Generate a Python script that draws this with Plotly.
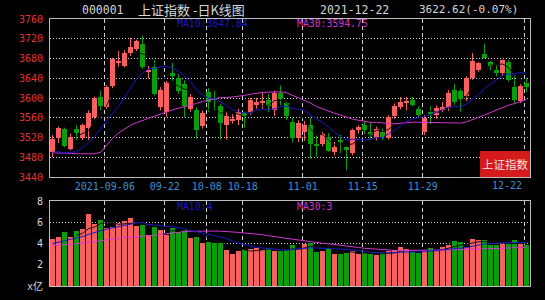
import plotly.graph_objects as go
import pandas as pd

# ---------------- data ----------------
dates = [
    "2021-08-24", "2021-08-25", "2021-08-26", "2021-08-27", "2021-08-30", "2021-08-31",
    "2021-09-01", "2021-09-02", "2021-09-03", "2021-09-06", "2021-09-07", "2021-09-08",
    "2021-09-09", "2021-09-10", "2021-09-13", "2021-09-14", "2021-09-15", "2021-09-16",
    "2021-09-17", "2021-09-22", "2021-09-23", "2021-09-24", "2021-09-27", "2021-09-28",
    "2021-09-29", "2021-09-30", "2021-10-08", "2021-10-11", "2021-10-12", "2021-10-13",
    "2021-10-14", "2021-10-15", "2021-10-18", "2021-10-19", "2021-10-20", "2021-10-21",
    "2021-10-22", "2021-10-25", "2021-10-26", "2021-10-27", "2021-10-28", "2021-10-29",
    "2021-11-01", "2021-11-02", "2021-11-03", "2021-11-04", "2021-11-05", "2021-11-08",
    "2021-11-09", "2021-11-10", "2021-11-11", "2021-11-12", "2021-11-15", "2021-11-16",
    "2021-11-17", "2021-11-18", "2021-11-19", "2021-11-22", "2021-11-23", "2021-11-24",
    "2021-11-25", "2021-11-26", "2021-11-29", "2021-11-30", "2021-12-01", "2021-12-02",
    "2021-12-03", "2021-12-06", "2021-12-07", "2021-12-08", "2021-12-09", "2021-12-10",
    "2021-12-13", "2021-12-14", "2021-12-15", "2021-12-16", "2021-12-17", "2021-12-20",
    "2021-12-21", "2021-12-22",
]
open_ = [3490, 3520, 3538, 3497, 3537, 3520, 3540, 3561, 3603, 3581,
         3625, 3672, 3665, 3692, 3699, 3710, 3652, 3663, 3582, 3572,
         3651, 3640, 3628, 3578, 3575, 3543, 3613, 3600, 3583, 3545,
         3555, 3555, 3569, 3571, 3587, 3590, 3595, 3575, 3611, 3589,
         3551, 3520, 3531, 3545, 3505, 3506, 3521, 3491, 3514, 3500,
         3489, 3535, 3545, 3531, 3520, 3531, 3520, 3563, 3582, 3590,
         3596, 3577, 3531, 3572, 3565, 3575, 3579, 3617, 3614, 3604,
         3641, 3656, 3689, 3673, 3656, 3651, 3673, 3623, 3594, 3630]
high = [3525, 3542, 3540, 3528, 3545, 3548, 3575, 3603, 3615, 3626,
        3681, 3695, 3697, 3722, 3718, 3726, 3665, 3677, 3622, 3635,
        3671, 3648, 3636, 3608, 3581, 3575, 3620, 3615, 3588, 3571,
        3567, 3578, 3572, 3600, 3600, 3611, 3608, 3615, 3625, 3593,
        3560, 3555, 3554, 3560, 3525, 3531, 3529, 3511, 3525, 3502,
        3538, 3545, 3554, 3550, 3542, 3538, 3565, 3589, 3602, 3602,
        3602, 3583, 3565, 3583, 3585, 3592, 3616, 3628, 3619, 3644,
        3691, 3673, 3710, 3675, 3666, 3678, 3677, 3646, 3628, 3640]
low = [3480, 3509, 3500, 3494, 3515, 3515, 3515, 3557, 3575, 3578,
       3620, 3663, 3662, 3685, 3695, 3659, 3639, 3605, 3575, 3562,
       3635, 3608, 3561, 3572, 3518, 3538, 3572, 3575, 3516, 3516,
       3548, 3545, 3540, 3566, 3578, 3578, 3571, 3563, 3585, 3555,
       3510, 3511, 3513, 3477, 3481, 3502, 3491, 3484, 3489, 3454,
       3484, 3528, 3527, 3516, 3514, 3514, 3516, 3558, 3577, 3575,
       3582, 3560, 3525, 3547, 3558, 3572, 3574, 3585, 3572, 3594,
       3637, 3653, 3680, 3656, 3644, 3644, 3633, 3590, 3590, 3612]
close = [3516, 3540, 3503, 3522, 3529, 3545, 3570, 3599, 3583, 3623,
         3678, 3674, 3692, 3704, 3715, 3662, 3657, 3609, 3617, 3631,
         3645, 3615, 3583, 3603, 3536, 3569, 3592, 3596, 3549, 3563,
         3558, 3571, 3565, 3595, 3591, 3594, 3583, 3611, 3598, 3563,
         3520, 3550, 3545, 3506, 3503, 3527, 3493, 3500, 3511, 3495,
         3535, 3541, 3536, 3525, 3538, 3522, 3562, 3583, 3592, 3592,
         3586, 3565, 3560, 3567, 3579, 3581, 3610, 3592, 3597, 3641,
         3675, 3670, 3682, 3665, 3650, 3677, 3636, 3596, 3625, 3622.62]
volume = [4.41, 4.60, 5.08, 4.57, 5.18, 5.37, 6.80, 5.81, 6.23, 5.43,
          5.59, 5.94, 6.13, 6.39, 5.69, 5.75, 4.79, 5.56, 5.27, 4.79,
          5.50, 5.05, 5.27, 4.54, 4.63, 4.06, 4.15, 4.06, 4.09, 3.35,
          3.00, 3.26, 3.35, 3.45, 3.58, 3.42, 3.61, 3.29, 3.26, 3.42,
          3.83, 3.51, 3.93, 4.09, 3.19, 3.26, 3.51, 3.04, 3.04, 3.13,
          3.26, 3.04, 3.13, 3.04, 2.94, 3.04, 3.26, 3.35, 3.67, 3.45,
          3.19, 3.13, 3.35, 3.58, 3.35, 3.67, 3.83, 4.25, 4.15, 3.67,
          4.47, 4.31, 4.31, 3.83, 3.83, 3.99, 3.99, 4.31, 3.99, 3.90]

# moving-average values before a full window exists
ma10_early = [3490, 3491, 3489, 3490, 3491, 3500, 3509, 3522, 3538]
ma30_early = [3489, 3489, 3489, 3488, 3487, 3487, 3487, 3487, 3490, 3505,
              3518, 3529, 3537, 3545, 3550, 3555, 3559, 3563, 3568, 3572,
              3576, 3579, 3582, 3585, 3589, 3593, 3596, 3599, 3601]
vma10_early = [4.0, 4.1, 4.25, 4.4, 4.5, 4.65, 4.85, 5.05, 5.2]
vma30_early = [3.83, 3.84, 3.86, 3.9, 3.97, 4.03, 4.1, 4.18, 4.25, 4.35,
               4.43, 4.5, 4.56, 4.59, 4.62, 4.66, 4.72, 4.78, 4.85, 4.93,
               5.0, 5.07, 5.12, 5.15, 5.17, 5.18, 5.18, 5.17, 5.16]

label_dates = ["2021-09-06", "2021-09-22", "2021-10-08", "2021-10-18",
               "2021-11-01", "2021-11-15", "2021-11-29", "2021-12-22"]
label_texts = ["2021-09-06", "09-22", "10-08", "10-18", "11-01", "11-15", "11-29", "12-22"]
price_ticks = [3440, 3480, 3520, 3560, 3600, 3640, 3680, 3720, 3760]
vol_ticks = [0, 2, 4, 6, 8]
vol_ticktext = ["x亿", "2", "4", "6", "8"]

title_code = "000001"
title_name = "上证指数 -日K线图"
title_date = "2021-12-22"
title_price = "3622.62(-0.07%)"
ma_price_labels = ["MA10:3647.84", "MA30:3594.75"]
ma_vol_labels = ["MA10:4", "MA30:3"]
badge_text = "上证指数"

# ---------------- styling ----------------
UP = "#fa5f5f"
DOWN = "#0b9e0b"
MA10_C = "#1818cc"
MA30_C = "#d236d2"
MA5_C = "#101010"
MONO = "DejaVu Sans Mono"
CJK = "Noto Sans CJK SC"
W, H = 545, 300


def moving(vals, w, early):
    s = pd.Series(vals, dtype=float).rolling(w).mean().tolist()
    return list(early) + s[len(early):]


def moving_plain(vals, w):
    return pd.Series(vals, dtype=float).rolling(w).mean().tolist()


n = len(close)
idx = list(range(n))
colors = [UP if c >= o else DOWN for o, c in zip(open_, close)]
base = [min(o, c) for o, c in zip(open_, close)]
body = [max(abs(c - o), 2.0) for o, c in zip(open_, close)]

ma5 = moving_plain(close, 5)
ma10 = moving(close, 10, ma10_early)
ma30 = moving(close, 30, ma30_early)
vma5 = moving_plain(volume, 5)
vma10 = moving(volume, 10, vma10_early)
vma30 = moving(volume, 30, vma30_early)

fig = go.Figure()

# wicks
for col in (UP, DOWN):
    wx, wy = [], []
    for i in idx:
        if colors[i] == col:
            wx += [i, i, None]
            wy += [low[i], high[i], None]
    fig.add_trace(go.Scatter(x=wx, y=wy, mode="lines", line=dict(color=col, width=1),
                             xaxis="x", yaxis="y", hoverinfo="skip"))

# bodies
fig.add_trace(go.Bar(x=idx, y=body, base=base, width=5 / 6, marker=dict(color=colors, line=dict(width=0)),
                     xaxis="x", yaxis="y"))

# price moving averages
fig.add_trace(go.Scatter(x=idx, y=ma5, mode="lines", line=dict(color=MA5_C, width=1), xaxis="x", yaxis="y"))
fig.add_trace(go.Scatter(x=idx, y=ma30, mode="lines", line=dict(color=MA30_C, width=1), xaxis="x", yaxis="y"))
fig.add_trace(go.Scatter(x=idx, y=ma10, mode="lines", line=dict(color=MA10_C, width=1), xaxis="x", yaxis="y"))

# volume
fig.add_trace(go.Bar(x=idx, y=volume, width=5 / 6, marker=dict(color=colors, line=dict(width=0)),
                     xaxis="x2", yaxis="y2"))
fig.add_trace(go.Scatter(x=idx, y=vma5, mode="lines", line=dict(color=MA5_C, width=1), xaxis="x2", yaxis="y2"))
fig.add_trace(go.Scatter(x=idx, y=vma30, mode="lines", line=dict(color=MA30_C, width=1), xaxis="x2", yaxis="y2"))
fig.add_trace(go.Scatter(x=idx, y=vma10, mode="lines", line=dict(color=MA10_C, width=1), xaxis="x2", yaxis="y2"))

tickvals = [dates.index(d) - 0.28 for d in label_dates]
ticktext = label_texts[:-1] + [""]
xrange_ = [-2.5 / 6, n - 2.5 / 6]
xdom = [50 / W, 530 / W]

common_x = dict(range=xrange_, domain=xdom, tickvals=tickvals, showgrid=True,
                gridcolor="#d0d0d0", griddash="4px,3px", gridwidth=1, zeroline=False,
                showline=True, mirror=True, linecolor="#bdbdbd", linewidth=1, ticks="",
                fixedrange=True, automargin=False)

fig.update_layout(
    width=W, height=H, autosize=False,
    margin=dict(l=0, r=0, t=0, b=0, pad=0, autoexpand=False),
    paper_bgcolor="black", plot_bgcolor="black",
    showlegend=False, barmode="overlay", bargap=0,
    xaxis=dict(**common_x, anchor="y", ticktext=ticktext,
               tickfont=dict(family=MONO, size=10, color="#3d8fd6")),
    yaxis=dict(domain=[1 - 177 / H, 1 - 19 / H], range=[price_ticks[0], price_ticks[-1]],
               tickvals=price_ticks, showgrid=True, gridcolor="#d8d8d8", griddash="1px,2px",
               gridwidth=1, zeroline=False, showline=True, mirror=True, linecolor="#bdbdbd",
               linewidth=1, ticks="", ticklabelstandoff=4, automargin=False,
               tickfont=dict(family=MONO, size=10, color="#e8302c"), anchor="x"),
    xaxis2=dict(**common_x, anchor="y2", showticklabels=False),
    yaxis2=dict(domain=[1 - 286 / H, 1 - 201 / H], range=[vol_ticks[0], vol_ticks[-1]],
                tickvals=vol_ticks, ticktext=vol_ticktext, showgrid=True, gridcolor="#d8d8d8",
                griddash="1px,2px", gridwidth=1, zeroline=False, showline=True, mirror=True,
                linecolor="#bdbdbd", linewidth=1, ticks="", ticklabelstandoff=4, automargin=False,
                tickfont=dict(family=MONO + ", " + CJK, size=10, color="#d8d8d8"), anchor="x2"),
)


def note(text, px, py, color, size, family=MONO, xanchor="left"):
    fig.add_annotation(text=text, x=px / W, y=1 - py / H, xref="paper", yref="paper",
                       xanchor=xanchor, yanchor="middle", showarrow=False,
                       font=dict(family=family, size=size, color=color))


note(title_code, 80, 10, "#d6d6d6", 11.5)
note(title_name, 136, 10, "#d6d6d6", 13, family=CJK)
note(title_date, 318, 10, "#d6d6d6", 11.5)
note(title_price, 417, 10, "#d6d6d6", 11)
note(ma_price_labels[0], 175, 24, MA10_C, 9.8)
note(ma_price_labels[1], 295, 24, MA30_C, 9.8)
note(ma_vol_labels[0], 175, 207, MA10_C, 9.8)
note(ma_vol_labels[1], 295, 207, MA30_C, 9.8)
note(label_texts[-1], 524, 185, "#3d8fd6", 10, xanchor="right")

fig.add_shape(type="rect", xref="paper", yref="paper", x0=480 / W, x1=530 / W,
              y0=1 - 177 / H, y1=1 - 151 / H, fillcolor="#d41a1a", line=dict(width=0), layer="above")
note(badge_text, 505, 164, "#f0e0e0", 11.5, family=CJK, xanchor="center")

fig.write_html("out.html")
